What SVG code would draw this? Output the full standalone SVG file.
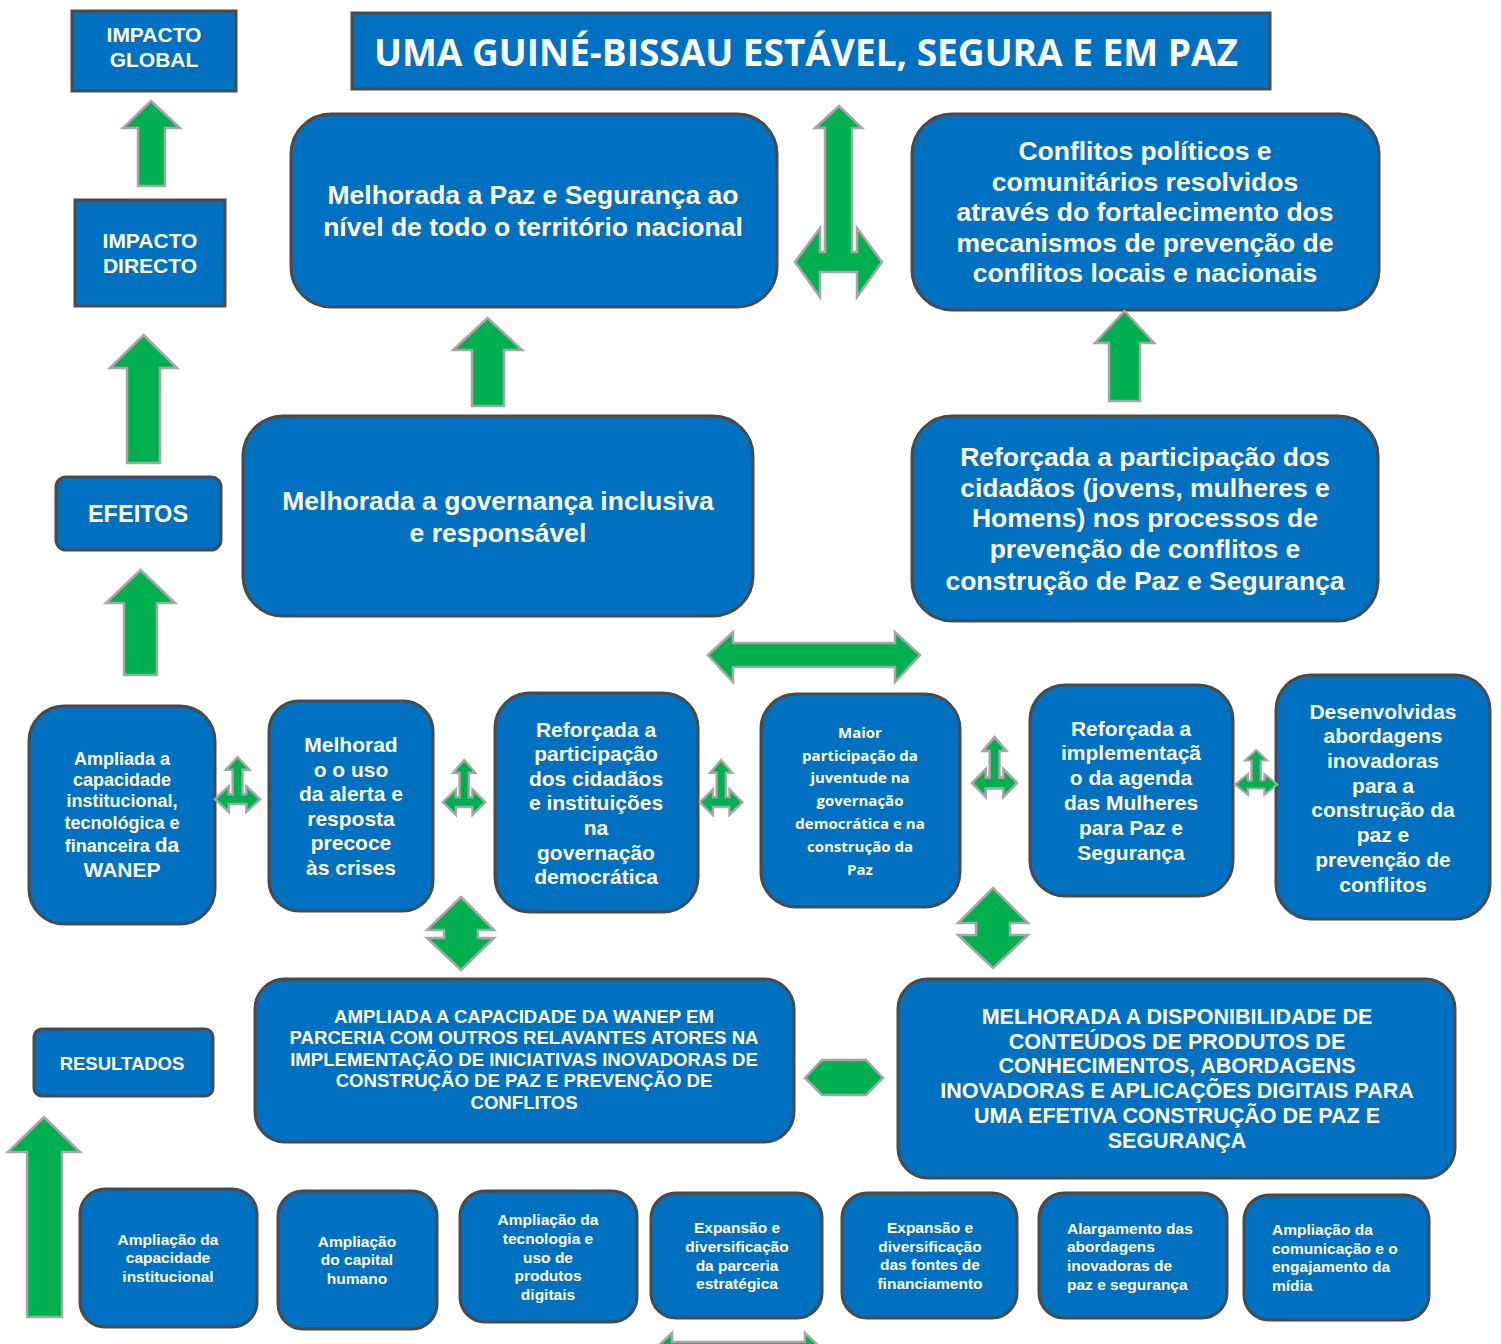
<svg xmlns="http://www.w3.org/2000/svg" xmlns:xlink="http://www.w3.org/1999/xlink" width="1501" height="1344" viewBox="0 0 1501 1344">
<style>
.box{fill:#0070C0;stroke:#4A4A4A;stroke-width:3}
.arr{fill:#00B050;stroke:#A6A6A6;stroke-width:2.5;stroke-linejoin:miter}
text{fill:#FFFFFF;font-family:"Liberation Sans",Arial,sans-serif;font-weight:bold;text-anchor:middle}
.cal{font-family:"Open Sans","Noto Sans",sans-serif;font-weight:bold}
.l{text-anchor:start}
</style>
<defs>
<path id="sm" d="M23,0 L35,13 L28,13 L28,38 L32,38 L32,30 L46,43 L32,56 L32,48 L14,48 L14,56 L0,43 L14,30 L14,38 L18,38 L18,13 L11,13 Z"/>
</defs>

<g id="impacto-global"><rect class="box" x="72" y="11" width="164" height="80"/>
<text font-size="21"><tspan x="154" y="42">IMPACTO</tspan><tspan x="154" y="67">GLOBAL</tspan></text></g>

<g id="titulo"><rect class="box" x="352" y="13" width="918" height="76"/>
<text class="cal" font-size="37" x="806" y="66" textLength="864" lengthAdjust="spacingAndGlyphs">UMA GUINÉ-BISSAU ESTÁVEL, SEGURA E EM PAZ</text></g>

<g id="impacto-directo"><rect class="box" x="75" y="200" width="150" height="106"/>
<text font-size="21"><tspan x="150" y="248">IMPACTO</tspan><tspan x="150" y="273">DIRECTO</tspan></text></g>

<g id="paz-seguranca"><rect class="box" x="291" y="114" width="486" height="193" rx="40"/>
<text font-size="26.5"><tspan x="533" y="204">Melhorada a Paz e Segurança ao</tspan><tspan x="533" y="236">nível de todo o território nacional</tspan></text></g>

<g id="conflitos"><rect class="box" x="912" y="114" width="467" height="196" rx="40"/>
<text font-size="26.5"><tspan x="1145" y="160">Conflitos políticos e</tspan><tspan x="1145" y="191">comunitários resolvidos</tspan><tspan x="1145" y="221">através do fortalecimento dos</tspan><tspan x="1145" y="252">mecanismos de prevenção de</tspan><tspan x="1145" y="282">conflitos locais e nacionais</tspan></text></g>

<g id="governanca"><rect class="box" x="243" y="416" width="510" height="200" rx="40"/>
<text font-size="26.5"><tspan x="498" y="510">Melhorada a governança inclusiva</tspan><tspan x="498" y="542">e responsável</tspan></text></g>

<g id="participacao"><rect class="box" x="912" y="416" width="466" height="205" rx="40"/>
<text font-size="26.5"><tspan x="1145" y="466">Reforçada a participação dos</tspan><tspan x="1145" y="497">cidadãos (jovens, mulheres e</tspan><tspan x="1145" y="527">Homens) nos processos de</tspan><tspan x="1145" y="558">prevenção de conflitos e</tspan><tspan x="1145" y="590">construção de Paz e Segurança</tspan></text></g>

<g id="efeitos"><rect class="box" x="56" y="477" width="165" height="73" rx="10"/>
<text font-size="23.5" x="138" y="522">EFEITOS</text></g>

<g id="ampliada-capacidade"><rect class="box" x="29" y="706" width="186" height="218" rx="35"/>
<text font-size="18"><tspan x="122" y="765">Ampliada a</tspan><tspan x="122" y="786">capacidade</tspan><tspan x="122" y="807">institucional,</tspan><tspan x="122" y="829">tecnológica e</tspan><tspan x="122" y="852">financeira <tspan font-size="21">da</tspan></tspan><tspan x="122" y="877" font-size="21">WANEP</tspan></text></g>

<g id="alerta"><rect class="box" x="269" y="701" width="164" height="210" rx="30"/>
<text font-size="21"><tspan x="351" y="752">Melhorad</tspan><tspan x="351" y="777">o o uso</tspan><tspan x="351" y="801">da alerta e</tspan><tspan x="351" y="826">resposta</tspan><tspan x="351" y="850">precoce</tspan><tspan x="351" y="875">às crises</tspan></text></g>

<g id="cidadaos-instituicoes"><rect class="box" x="495" y="693" width="203" height="219" rx="35"/>
<text font-size="21"><tspan x="596" y="737">Reforçada a</tspan><tspan x="596" y="761">participação</tspan><tspan x="596" y="786">dos cidadãos</tspan><tspan x="596" y="810">e instituições</tspan><tspan x="596" y="835">na</tspan><tspan x="596" y="860">governação</tspan><tspan x="596" y="884">democrática</tspan></text></g>

<g id="juventude"><rect class="box" x="761" y="694" width="199" height="213" rx="35"/>
<text class="cal" font-size="15"><tspan x="860" y="738">Maior</tspan><tspan x="860" y="761">participação da</tspan><tspan x="860" y="783">juventude na</tspan><tspan x="860" y="806">governação</tspan><tspan x="860" y="829">democrática e na</tspan><tspan x="860" y="852">construção da</tspan><tspan x="860" y="875">Paz</tspan></text></g>

<g id="mulheres"><rect class="box" x="1030" y="685" width="203" height="211" rx="35"/>
<text font-size="21"><tspan x="1131" y="736">Reforçada a</tspan><tspan x="1131" y="760">implementaçã</tspan><tspan x="1131" y="785">o da agenda</tspan><tspan x="1131" y="810">das Mulheres</tspan><tspan x="1131" y="835">para Paz e</tspan><tspan x="1131" y="860">Segurança</tspan></text></g>

<g id="abordagens"><rect class="box" x="1276" y="675" width="214" height="244" rx="35"/>
<text font-size="21"><tspan x="1383" y="719">Desenvolvidas</tspan><tspan x="1383" y="743">abordagens</tspan><tspan x="1383" y="768">inovadoras</tspan><tspan x="1383" y="793">para a</tspan><tspan x="1383" y="817">construção da</tspan><tspan x="1383" y="842">paz e</tspan><tspan x="1383" y="867">prevenção de</tspan><tspan x="1383" y="892">conflitos</tspan></text></g>

<g id="resultados"><rect class="box" x="34" y="1029" width="179" height="67" rx="8"/>
<text font-size="18.5" x="122" y="1070">RESULTADOS</text></g>

<g id="wanep-parceria"><rect class="box" x="255" y="979" width="539" height="163" rx="30"/>
<text font-size="18.6"><tspan x="524" y="1023">AMPLIADA A CAPACIDADE DA WANEP EM</tspan><tspan x="524" y="1044">PARCERIA COM OUTROS RELAVANTES ATORES NA</tspan><tspan x="524" y="1066">IMPLEMENTAÇÃO DE INICIATIVAS INOVADORAS DE</tspan><tspan x="524" y="1087">CONSTRUÇÃO DE PAZ E PREVENÇÃO DE</tspan><tspan x="524" y="1109">CONFLITOS</tspan></text></g>

<g id="disponibilidade"><rect class="box" x="898" y="979" width="557" height="199" rx="30"/>
<text font-size="21.5"><tspan x="1177" y="1024">MELHORADA A DISPONIBILIDADE DE</tspan><tspan x="1177" y="1049">CONTEÚDOS DE PRODUTOS DE</tspan><tspan x="1177" y="1073">CONHECIMENTOS, ABORDAGENS</tspan><tspan x="1177" y="1098">INOVADORAS E APLICAÇÕES DIGITAIS PARA</tspan><tspan x="1177" y="1123">UMA EFETIVA CONSTRUÇÃO DE PAZ E</tspan><tspan x="1177" y="1148">SEGURANÇA</tspan></text></g>

<g id="b1"><rect class="box" x="80" y="1189" width="177" height="138" rx="25"/>
<text font-size="15.5"><tspan x="168" y="1245">Ampliação da</tspan><tspan x="168" y="1263">capacidade</tspan><tspan x="168" y="1282">institucional</tspan></text></g>

<g id="b2"><rect class="box" x="278" y="1191" width="159" height="138" rx="25"/>
<text font-size="15.5"><tspan x="357" y="1247">Ampliação</tspan><tspan x="357" y="1265">do capital</tspan><tspan x="357" y="1284">humano</tspan></text></g>

<g id="b3"><rect class="box" x="460" y="1191" width="177" height="131" rx="25"/>
<text font-size="15.5"><tspan x="548" y="1225">Ampliação da</tspan><tspan x="548" y="1244">tecnologia e</tspan><tspan x="548" y="1263">uso de</tspan><tspan x="548" y="1281">produtos</tspan><tspan x="548" y="1300">digitais</tspan></text></g>

<g id="b4"><rect class="box" x="651" y="1193" width="171" height="125" rx="25"/>
<text font-size="15.5"><tspan x="737" y="1233">Expansão  e</tspan><tspan x="737" y="1252">diversificação</tspan><tspan x="737" y="1271">da parceria</tspan><tspan x="737" y="1289">estratégica</tspan></text></g>

<g id="b5"><rect class="box" x="842" y="1193" width="175" height="125" rx="25"/>
<text font-size="15.5"><tspan x="930" y="1233">Expansão e</tspan><tspan x="930" y="1252">diversificação</tspan><tspan x="930" y="1270">das fontes de</tspan><tspan x="930" y="1289">financiamento</tspan></text></g>

<g id="b6"><rect class="box" x="1039" y="1193" width="188" height="125" rx="25"/>
<text class="l" font-size="15.5"><tspan x="1067" y="1234">Alargamento das</tspan><tspan x="1067" y="1252">abordagens</tspan><tspan x="1067" y="1271">inovadoras de</tspan><tspan x="1067" y="1290">paz e segurança</tspan></text></g>

<g id="b7"><rect class="box" x="1244" y="1195" width="185" height="125" rx="25"/>
<text class="l" font-size="15.5"><tspan x="1272" y="1235">Ampliação da</tspan><tspan x="1272" y="1254">comunicação e o</tspan><tspan x="1272" y="1272">engajamento da</tspan><tspan x="1272" y="1291">mídia</tspan></text></g>

<g id="connectors">
<path class="arr" d="M151,101 L180,128 L165,128 L165,186 L138,186 L138,128 L123,128 Z"/>
<path class="arr" d="M143.5,335 L177,368 L160,368 L160,463 L127,463 L127,368 L110,368 Z"/>
<path class="arr" d="M140.5,570 L175,603 L157,603 L157,675 L124,675 L124,603 L106,603 Z"/>
<path class="arr" d="M487.5,318 L522,350 L504,350 L504,406 L472,406 L472,350 L453,350 Z"/>
<path class="arr" d="M1124.5,311 L1154,343 L1140,343 L1140,401 L1109,401 L1109,343 L1095,343 Z"/>
<path class="arr" d="M44,1117 L80,1152 L62,1152 L62,1317 L27,1317 L27,1152 L8,1152 Z"/>
<path class="arr" d="M839,106 L862,128 L852,128 L852,252 L857,252 L857,228 L882,262 L857,297 L857,272 L820,272 L820,297 L795,262 L820,228 L820,252 L825,252 L825,128 L815,128 Z"/>
<path class="arr" d="M708,655 L733,632 L733,643 L895,643 L895,632 L920,655 L895,682 L895,667 L733,667 L733,682 Z"/>
<use href="#sm" class="arr" transform="translate(215,757) scale(0.98,0.98)"/>
<use href="#sm" class="arr" transform="translate(443,760) scale(0.92,0.98)"/>
<use href="#sm" class="arr" transform="translate(700,760) scale(0.92,0.98)"/>
<use href="#sm" class="arr" transform="translate(972,737) scale(0.98,1.07)"/>
<use href="#sm" class="arr" transform="translate(1235,750) scale(0.92,0.8)"/>
<path class="arr" d="M461,897 L494,930 L478,930 L478,938 L494,938 L461,970 L427,938 L444,938 L444,930 L427,930 Z"/>
<path class="arr" d="M993,888 L1028,923 L1010,923 L1010,935 L1028,935 L993,968 L958,935 L976,935 L976,923 L958,923 Z"/>
<path class="arr" d="M805,1078 L822,1060 L866,1060 L883,1078 L866,1095 L822,1095 Z"/>
<path class="arr" d="M652,1352 L672,1333 L672,1342 L805,1342 L805,1333 L825,1352 L805,1371 L805,1362 L672,1362 L672,1371 Z"/>
</g>
</svg>
